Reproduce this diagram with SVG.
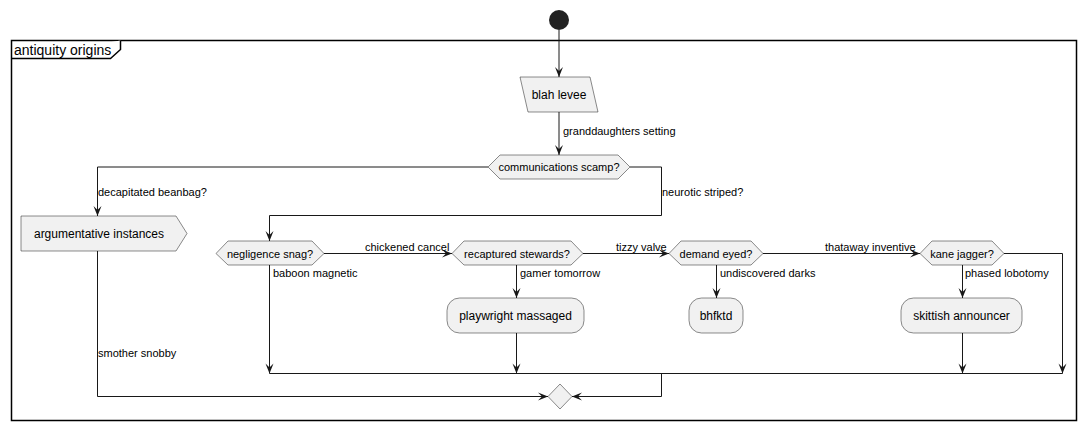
<svg xmlns="http://www.w3.org/2000/svg" width="1087" height="430" viewBox="0 0 1087 430">
<style>
text{font-family:"Liberation Sans",Arial,sans-serif;fill:#000}
.lbl{font-size:11px}
.dt{font-size:11px;text-anchor:middle}
.at{font-size:12px;text-anchor:middle}
.node{fill:#F1F1F1;stroke:#181818;stroke-width:0.5}
.ln{fill:none;stroke:#181818;stroke-width:1}
.arr{fill:none;stroke:#181818;stroke-width:1;marker-end:url(#ah)}
</style>
<defs>
<marker id="ah" viewBox="-11 -5 12 10" refX="0" refY="0" markerWidth="12" markerHeight="10" markerUnits="userSpaceOnUse" orient="auto">
<path d="M0,0 L-10,-4 L-6,0 L-10,4 Z" fill="#181818"/>
</marker>
</defs>
<rect width="1087" height="430" fill="#FFFFFF"/>
<g id="frame">
<rect x="11.5" y="40.5" width="1065" height="380" fill="none" stroke="#000" stroke-width="1.5"/>
<path d="M11.5,58.5 H110.5 L120.5,49.5 V40.5" fill="#FFFFFF" stroke="#000" stroke-width="1.5"/>
<text x="14" y="55" style="font-size:14px">antiquity origins</text>
</g>
<g id="connectors">
<path class="arr" d="M559,30 V77"/>
<path class="arr" d="M559,112 V155"/>
<path class="arr" d="M488,167 H97.5 V216"/>
<path class="arr" d="M630,167 H661.5 V215.5 H269.5 V241"/>
<path class="arr" d="M97.5,251 V396.5 H548"/>
<path class="arr" d="M324,253.5 H452"/>
<path class="arr" d="M516.5,265 V298"/>
<path class="arr" d="M516.5,333 V373.5"/>
<path class="arr" d="M583,253.5 H669"/>
<path class="arr" d="M716.5,265 V298"/>
<path class="arr" d="M763,253.5 H920"/>
<path class="arr" d="M962.5,265 V298"/>
<path class="arr" d="M962.5,333 V373.5"/>
<path class="arr" d="M1004,253.5 H1062.5 V373.5"/>
<path class="arr" d="M269.5,265 V373.5"/>
<path class="ln" d="M269.5,373.5 H1062.5"/>
<path class="arr" d="M661.5,373.5 V396.5 H572"/>
<text class="lbl" x="563" y="135">granddaughters setting</text>
<text class="lbl" x="98" y="196">decapitated beanbag?</text>
<text class="lbl" x="662" y="196">neurotic striped?</text>
<text class="lbl" x="98" y="357">smother snobby</text>
<text class="lbl" x="273" y="277">baboon magnetic</text>
<text class="lbl" x="365" y="251">chickened cancel</text>
<text class="lbl" x="520" y="277">gamer tomorrow</text>
<text class="lbl" x="616" y="251">tizzy valve</text>
<text class="lbl" x="720" y="277">undiscovered darks</text>
<text class="lbl" x="825" y="251">thataway inventive</text>
<text class="lbl" x="965" y="277">phased lobotomy</text>
</g>
<g id="start"><circle cx="559" cy="20" r="10" fill="#222222"/></g>
<g id="blah_levee">
<polygon class="node" points="520,77 590,77 598,112 528,112"/>
<text class="at" x="559" y="99">blah levee</text>
</g>
<g id="communications_scamp">
<polygon class="node" points="488,167 500,155 618,155 630,167 618,179 500,179"/>
<text class="dt" x="559" y="171">communications scamp?</text>
</g>
<g id="argumentative_instances">
<polygon class="node" points="21,216 176,216 187,233.5 176,251 21,251"/>
<text class="at" x="99" y="238">argumentative instances</text>
</g>
<g id="negligence_snag">
<polygon class="node" points="216,253.5 228,241 312,241 324,253.5 312,265 228,265"/>
<text class="dt" x="270" y="257.5">negligence snag?</text>
</g>
<g id="recaptured_stewards">
<polygon class="node" points="452,253.5 464,241 571,241 583,253.5 571,265 464,265"/>
<text class="dt" x="517" y="257.5">recaptured stewards?</text>
</g>
<g id="demand_eyed">
<polygon class="node" points="669,253.5 681,241 751,241 763,253.5 751,265 681,265"/>
<text class="dt" x="716" y="257.5">demand eyed?</text>
</g>
<g id="kane_jagger">
<polygon class="node" points="920,253.5 932,241 992,241 1004,253.5 992,265 932,265"/>
<text class="dt" x="962" y="257.5">kane jagger?</text>
</g>
<g id="playwright_massaged">
<rect class="node" x="447" y="298" width="137" height="35" rx="12.5"/>
<text class="at" x="515.5" y="320">playwright massaged</text>
</g>
<g id="bhfktd">
<rect class="node" x="689" y="298" width="54" height="35" rx="12.5"/>
<text class="at" x="716" y="320">bhfktd</text>
</g>
<g id="skittish_announcer">
<rect class="node" x="901" y="298" width="121" height="35" rx="12.5"/>
<text class="at" x="961.5" y="320">skittish announcer</text>
</g>
<g id="merge">
<polygon class="node" points="560,384 572,396.5 560,409 548,396.5"/>
</g>
</svg>
